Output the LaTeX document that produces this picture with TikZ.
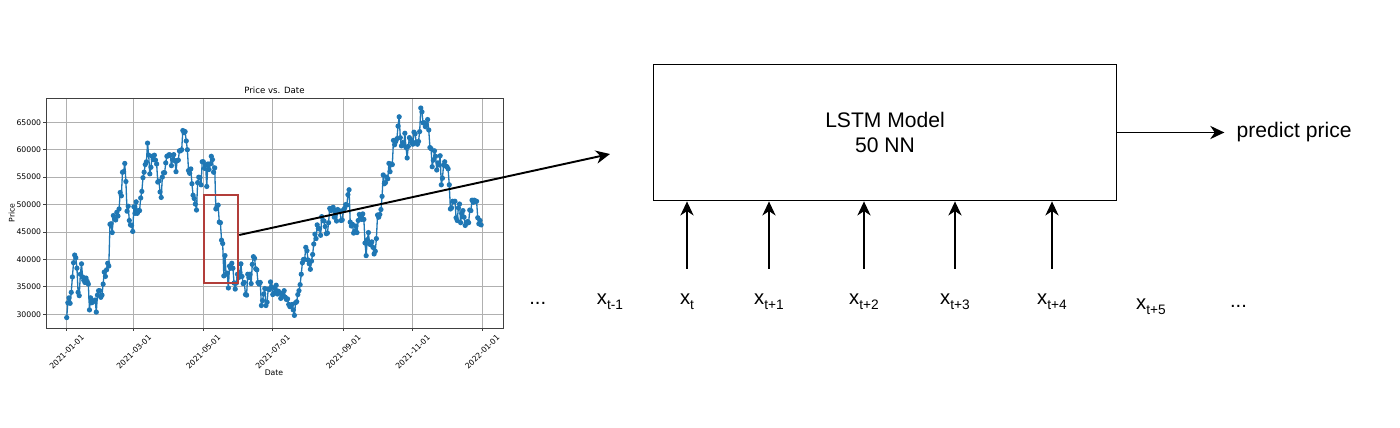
\documentclass[tikz,border=0pt]{standalone}
\usepackage{fontspec}
\setmainfont{Liberation Sans}
\newfontfamily\plotfont{DejaVu Sans}
\usepackage{tikz}
\usetikzlibrary{arrows.meta, positioning}
\definecolor{plotblue}{RGB}{31,119,180}
\definecolor{zoomred}{RGB}{178,62,58}
\definecolor{gridgray}{RGB}{176,176,176}
\tikzset{
  price_line/.style={plotblue, line width=0.75pt, line join=round},
  price_dot/.style={plotblue},
  grid_line/.style={gridgray, line width=0.5pt},
  axes_frame/.style={draw=black!75, line width=0.45pt},
  tick_mark/.style={black!75, line width=0.45pt},
  tick_label/.style={font=\plotfont\fontsize{4.4}{5}\selectfont, inner sep=0pt},
  title_label/.style={font=\plotfont\fontsize{4.9}{6}\selectfont, inner sep=0pt},
  zoom_box/.style={rectangle, draw=zoomred, line width=1pt, minimum width=0.686cm, minimum height=1.76cm, inner sep=0pt},
  model_box/.style={rectangle, draw=black, line width=1.05pt, minimum width=9.26cm, minimum height=2.72cm, align=center, font=\fontsize{12}{14.2}\selectfont},
  seq_label/.style={inner sep=0pt, anchor=base, font=\fontsize{11.5}{13}\selectfont},
  out_label/.style={font=\fontsize{12}{14}\selectfont, inner xsep=0.24cm, inner ysep=0pt},
  arrow/.style={->, line width=0.95pt, black, >={Stealth[length=8pt, width=7.5pt, inset=2.5pt]}}
}
% x with a lowered subscript
\newcommand{\seqlabel}[1]{x\raisebox{-2.3pt}{\fontsize{7.8}{8}\selectfont #1}}
% daily close 2021, in thousands
\newcommand{\pricedata}{29.4,32.1,33.0,32.0,34.0,36.8,39.4,40.8,40.3,38.4,34.0,33.4,37.3,39.2,36.8,36.2,35.8,36.6,36.0,35.5,30.8,33.0,32.1,32.3,32.4,32.6,30.4,33.5,34.3,34.3,33.1,%
33.5,35.5,37.7,36.9,38.1,39.3,38.8,46.4,46.5,44.9,48.0,47.4,47.2,48.6,47.9,49.2,52.2,51.6,55.9,56.0,57.5,54.2,48.8,49.7,47.1,46.3,46.2,45.1,%
49.6,48.4,50.5,48.4,48.9,48.9,51.2,52.4,54.9,55.9,57.3,57.8,61.2,59.0,55.6,56.8,58.8,58.2,59.0,58.1,57.4,54.1,54.3,52.3,51.3,55.0,55.8,55.8,57.6,58.8,58.9,%
59.1,59.0,57.1,58.2,59.1,58.0,56.0,58.0,58.1,59.8,59.8,60.0,63.5,63.1,63.3,61.6,60.0,56.2,55.7,56.5,53.8,51.7,51.1,50.1,49.0,54.0,55.0,54.9,53.6,57.8,%
57.8,56.6,57.2,53.3,57.4,56.4,57.4,58.8,58.2,55.9,56.7,49.2,49.7,49.9,46.8,46.7,43.5,42.9,37.0,40.7,37.3,37.5,34.8,38.8,38.4,39.3,38.4,35.7,34.6,35.7,37.3,%
36.7,37.6,39.2,36.9,35.6,35.8,33.6,33.5,37.3,36.7,37.3,35.6,39.1,40.5,40.2,38.3,38.1,35.8,35.5,35.8,31.6,32.5,33.7,34.7,31.6,32.2,34.6,34.5,35.9,35.0,%
33.6,33.9,34.7,35.3,33.7,34.2,33.9,32.9,33.8,33.5,34.3,33.1,32.7,32.8,31.8,31.4,31.5,31.8,30.8,29.8,32.1,32.3,33.6,34.3,35.4,37.3,39.4,40.0,40.0,42.2,41.6,%
39.9,39.2,38.2,39.7,40.9,42.8,44.6,43.8,46.3,45.6,45.6,44.4,47.8,47.1,47.0,46.0,44.7,44.8,46.7,49.3,48.9,49.3,49.5,47.7,48.9,47.0,49.1,48.9,48.8,47.1,47.2,%
49.0,49.3,50.0,49.9,51.8,52.7,46.8,46.1,46.4,44.8,45.2,46.1,44.9,47.1,48.2,47.8,47.3,48.3,47.3,43.0,40.7,43.6,44.9,42.8,42.7,43.2,42.2,41.0,41.5,43.8,%
48.1,47.7,48.2,49.1,51.5,55.4,53.8,54.0,55.0,54.7,57.5,56.0,57.4,57.3,61.7,60.9,61.5,62.0,64.3,66.0,62.2,60.7,61.3,60.9,63.0,60.4,58.5,60.6,62.2,61.9,61.3,%
61.0,63.2,62.9,61.4,61.0,61.5,63.3,67.6,66.9,64.9,64.9,64.2,64.5,65.5,63.6,60.4,60.2,56.9,58.1,59.8,58.8,56.3,57.6,57.2,58.9,53.6,54.8,57.2,57.8,57.0,%
56.9,56.5,53.6,49.2,49.4,50.6,50.5,50.6,47.6,47.1,49.4,50.1,46.7,48.4,48.9,47.7,46.2,46.7,46.9,46.7,49.0,48.9,50.8,50.4,50.8,50.6,50.6,47.6,46.5,47.1,46.3}

\begin{document}
\begin{tikzpicture}[x=0.02cm, y=-0.02cm]
  \useasboundingbox (0,0) rectangle (1400,428);

  % Price chart
  \foreach \d in {0,59,120,181,243,304,365}
    \draw[grid_line] ({66.7+1.1386*\d},98) -- ({66.7+1.1386*\d},328);
  \foreach \k in {0,...,7}
    \draw[grid_line] (46,{314.3-27.43*\k}) -- (503,{314.3-27.43*\k});
  \draw[axes_frame] (46,98) rectangle (503,328);

  \foreach \d/\lab [count=\i] in {0/2021-01-01, 59/2021-03-01, 120/2021-05-01, 181/2021-07-01, 243/2021-09-01, 304/2021-11-01, 365/2022-01-01} {
    \draw[tick_mark] ({66.7+1.1386*\d},328) -- ({66.7+1.1386*\d},331);
    \node[tick_label, rotate=45] (xtick_\i) at ({66.7+1.1386*\d},352) {\lab};
  }
  \foreach \k [count=\i] in {0,...,7} {
    \pgfmathtruncatemacro\val{30+5*\k}
    \draw[tick_mark] (46,{314.3-27.43*\k}) -- (43,{314.3-27.43*\k});
    \node[tick_label, anchor=east] (ytick_\i) at (41.5,{314.3-27.43*\k}) {\val000};
  }

  \node[title_label] (chart_title) at (274.5,90.7) {Price vs. Date};
  \node[tick_label, rotate=90] (ylab) at (11.7,213) {Price};
  \node[tick_label] (xlab) at (274,373) {Date};

  \draw[price_line] (66.7,317.6) foreach \v [count=\d from 0] in \pricedata { -- ({66.7+1.1386*\d},{314.3-5.486*(\v-30)}) };
  \foreach \v [count=\d from 0] in \pricedata
    \fill[price_dot] ({66.7+1.1386*\d},{314.3-5.486*(\v-30)}) circle[radius=1.5pt];

  % Zoomed window and pointer
  \node[zoom_box] (zoom) at (221.2,239) {};
  \coordinate (arrow_tip) at (610,154);
  \draw[arrow, line width=1.1pt] ([yshift=0.08cm]zoom.east) -- (arrow_tip);

  % Model
  \node[model_box] (model) at (885,132.5) {LSTM Model\\50 NN};
  \node[out_label, right=2.14cm of model] (predict) {predict price};
  \draw[arrow] (model) -- (predict);

  % Input sequence
  \node[seq_label] (dots_l) at (537.7,305) {...};
  \node[seq_label] (xt_m1) at (610,305) {\seqlabel{t-1}};
  \node[seq_label] (xt) at (687,305) {\seqlabel{t}};
  \node[seq_label] (xt_p1) at (769,305) {\seqlabel{t+1}};
  \node[seq_label] (xt_p2) at (864,305) {\seqlabel{t+2}};
  \node[seq_label] (xt_p3) at (955,305) {\seqlabel{t+3}};
  \node[seq_label] (xt_p4) at (1052,305) {\seqlabel{t+4}};
  \node[seq_label] (xt_p5) at (1151,310) {\seqlabel{t+5}};
  \node[seq_label] (dots_r) at (1238.5,308) {...};

  \foreach \n in {xt, xt_p1, xt_p2, xt_p3, xt_p4}
    \draw[arrow] ([yshift=0.5cm]\n.north) -- (\n.north |- model.south);

\end{tikzpicture}
\end{document}
